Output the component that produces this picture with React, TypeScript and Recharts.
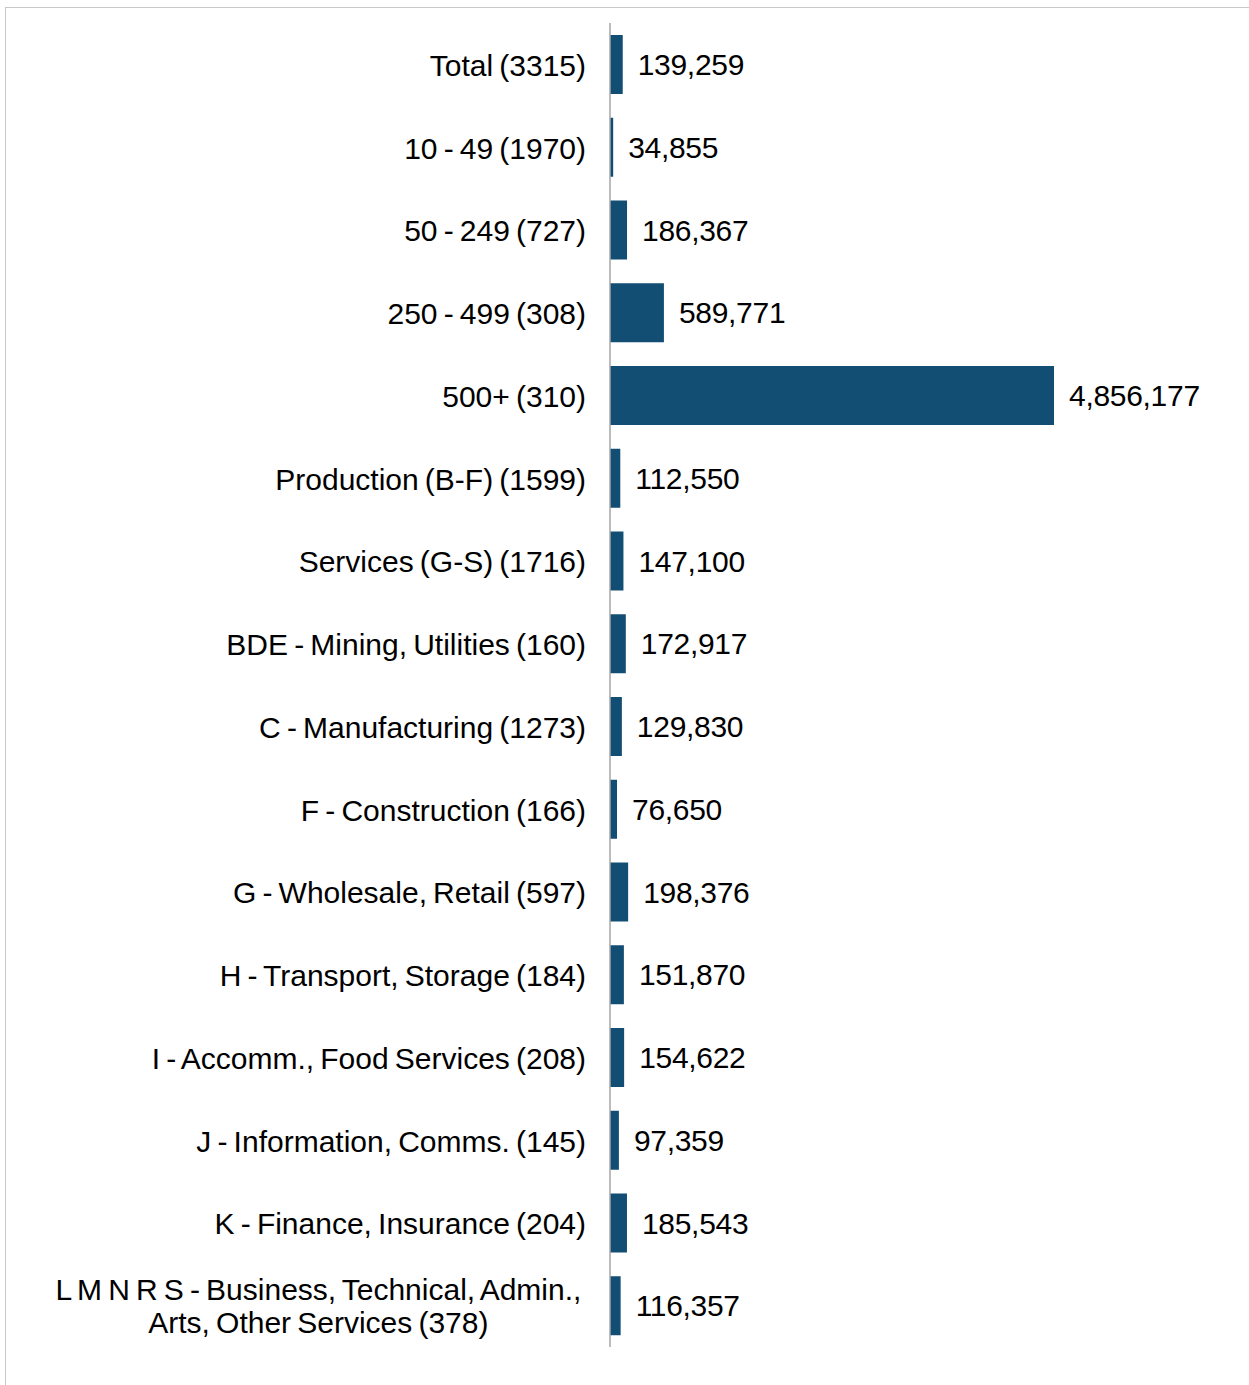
import React from "react";
import { BarChart, Bar, XAxis, YAxis, LabelList } from "recharts";

const categories: string[] = [
  "Total (3315)",
  "10 - 49 (1970)",
  "50 - 249 (727)",
  "250 - 499 (308)",
  "500+ (310)",
  "Production (B-F) (1599)",
  "Services (G-S) (1716)",
  "BDE - Mining, Utilities (160)",
  "C - Manufacturing (1273)",
  "F - Construction (166)",
  "G - Wholesale, Retail (597)",
  "H - Transport, Storage (184)",
  "I - Accomm., Food Services (208)",
  "J - Information, Comms. (145)",
  "K - Finance, Insurance (204)",
  "L M N R S - Business, Technical, Admin.,\nArts, Other Services (378)",
];

const values: number[] = [
  139259, 34855, 186367, 589771, 4856177, 112550, 147100, 172917, 129830,
  76650, 198376, 151870, 154622, 97359, 185543, 116357,
];

const data = categories.map((name, i) => ({ name, value: values[i] }));

const FONT = '"Liberation Sans", Arial, sans-serif';
const FS = 30;
const WS = -2.2;

function measure(text: string): number {
  const spaces = (text.match(/ /g) || []).length;
  if (typeof document === "undefined") return text.length * FS * 0.5;
  const c = document.createElement("canvas");
  const ctx = c.getContext("2d");
  if (!ctx) return text.length * FS * 0.5;
  ctx.font = `${FS}px ${FONT}`;
  return ctx.measureText(text).width + spaces * WS;
}

const CatTick = (props: any) => {
  const { x, y, payload } = props;
  const label: string = payload.value;
  const lines = label.split("\n");
  const right = x - 24;
  if (lines.length === 1) {
    return (
      <text
        x={right}
        y={y + 1}
        textAnchor="end"
        dominantBaseline="central"
        fontFamily={FONT}
        fontSize={FS}
        fill="#000"
        style={{ wordSpacing: WS }}
      >
        {label}
      </text>
    );
  }
  const w = Math.max(...lines.map(measure));
  const cx = right - 3 - w / 2;
  const lh = 33;
  const start = y - ((lines.length - 1) * lh) / 2;
  return (
    <text
      textAnchor="middle"
      fontFamily={FONT}
      fontSize={FS}
      fill="#000"
      style={{ wordSpacing: WS }}
    >
      {lines.map((l, i) => (
        <tspan key={i} x={cx} y={start + i * lh} dominantBaseline="central">
          {l}
        </tspan>
      ))}
    </text>
  );
};

export default function App() {
  return (
    <div style={{ position: "absolute", left: 0, top: 0, width: 1249, height: 1385, background: "#fff" }}>
      <div
        style={{
          position: "absolute",
          left: 5,
          top: 7,
          width: 1400,
          height: 1500,
          borderTop: "1px solid #c8c8c8",
          borderLeft: "1px solid #c8c8c8",
        }}
      />
      <div style={{ position: "absolute", left: 0, top: 0 }}>
        <BarChart
          width={1249}
          height={1385}
          data={data}
          layout="vertical"
          margin={{ top: 23, right: 195, bottom: 38, left: 0 }}
          barSize={59}
        >
          <XAxis type="number" hide domain={[0, "dataMax"]} />
          <YAxis
            type="category"
            dataKey="name"
            width={610}
            axisLine={{ stroke: "#a6a6a6", strokeWidth: 1.5 }}
            tickLine={false}
            tickSize={0}
            tickMargin={0}
            tick={<CatTick />}
            interval={0}
          />
          <Bar dataKey="value" fill="#124E73" isAnimationActive={false}>
            <LabelList
              dataKey="value"
              position="right"
              offset={15}
              formatter={(v: any) => Number(v).toLocaleString("en-US")}
              style={{ fontFamily: FONT, fontSize: FS, fill: "#000", letterSpacing: -0.3 }}
            />
          </Bar>
        </BarChart>
      </div>
    </div>
  );
}
